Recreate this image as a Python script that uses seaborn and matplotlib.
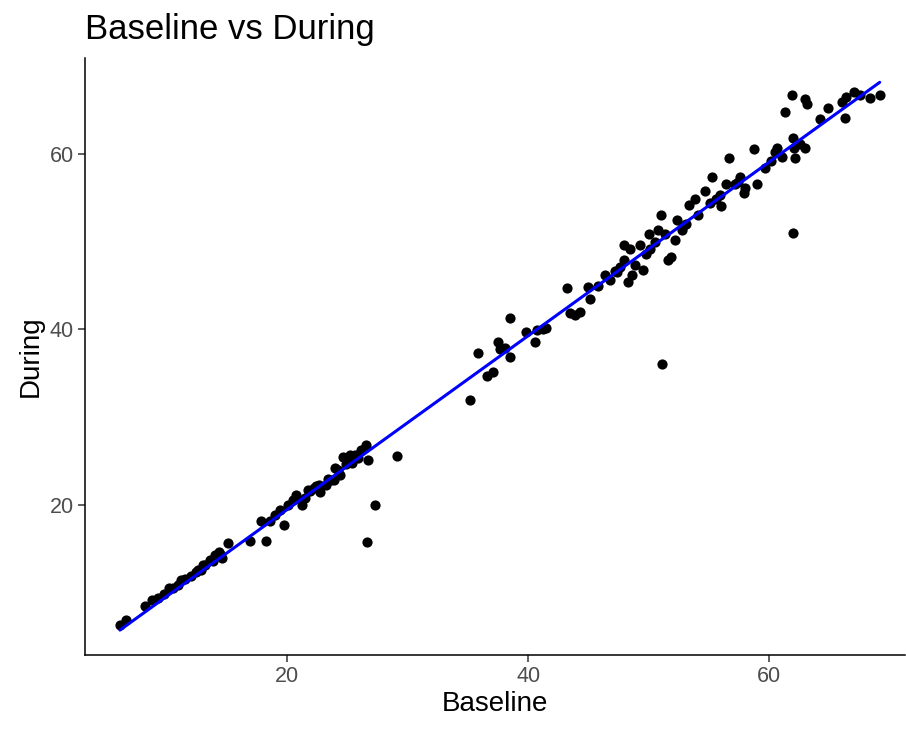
import matplotlib
matplotlib.use("Agg")
import matplotlib.pyplot as plt
import seaborn as sns
import pandas as pd

# values
baseline = [
    6.1, 6.6, 8.2, 8.8, 9.3, 10.5, 10.9, 11.5, 12.0, 12.4, 12.8, 13.2, 13.6, 14.0,
    14.3, 14.6, 15.1, 16.9, 17.8, 18.2, 18.6, 19.4, 19.7, 20.1, 20.5, 20.7, 21.2,
    21.5, 21.7, 22.2, 22.6, 22.7, 23.2, 23.6, 23.9, 24.4, 24.6, 24.9, 25.2, 25.6,
    26.1, 26.5, 26.7, 26.6, 27.3, 29.1,
    35.2, 35.8, 36.6, 37.1, 37.5, 37.7, 38.1, 38.5, 38.5, 39.8, 40.6, 40.7, 41.2,
    41.5, 43.2, 43.5, 43.9, 44.3, 45.0, 45.1, 45.8, 46.4, 46.8, 47.2, 47.6, 48.0,
    48.0, 48.5, 48.3, 48.6, 48.9, 49.3, 49.5, 50.0, 50.1, 50.5, 50.8, 51.0, 51.1,
    51.4, 51.6, 51.9, 52.2, 52.4, 52.8, 52.9, 53.4, 53.9, 54.1, 54.7, 55.1, 55.3,
    55.6, 55.9, 56.4, 56.7, 57.2, 57.4, 57.6, 58.0, 58.8, 59.0, 59.7, 60.5, 60.7,
    61.1, 61.3, 61.9, 62.0, 62.1, 62.2, 62.0, 62.6, 63.0, 63.0, 63.2, 64.2, 64.9,
    66.1, 66.3, 66.4, 67.1, 67.6, 68.4, 69.2,
    10.2, 11.2, 12.6, 13.0, 14.4, 19.0, 21.9, 23.4, 24.2, 25.9, 47.4, 49.8, 53.1,
    56.0, 57.9, 60.2, 22.4, 24.0, 25.4, 13.8, 9.8,
]
during = [
    6.3, 6.9, 8.5, 9.2, 9.4, 10.5, 10.9, 11.5, 11.9, 12.3, 12.6, 13.2, 13.7, 14.3,
    14.6, 13.9, 15.7, 15.9, 18.2, 15.9, 18.2, 19.4, 17.7, 20.0, 20.6, 21.1, 20.0,
    20.8, 21.7, 21.9, 22.3, 21.5, 22.3, 22.8, 22.8, 23.4, 25.4, 24.6, 25.7, 25.7,
    26.3, 26.8, 25.1, 15.8, 20.0, 25.6,
    32.0, 37.3, 34.7, 35.1, 38.5, 37.7, 37.9, 41.3, 36.8, 39.7, 38.5, 39.9, 40.0,
    40.2, 44.7, 41.9, 41.6, 42.0, 44.8, 43.4, 44.9, 46.2, 45.6, 46.6, 47.1, 47.9,
    49.6, 49.1, 45.4, 46.2, 47.3, 49.6, 46.8, 50.9, 49.1, 49.9, 51.3, 53.0, 36.0,
    50.8, 47.9, 48.2, 50.2, 52.5, 51.3, 51.8, 54.2, 54.8, 53.0, 55.7, 54.4, 57.3,
    54.8, 55.3, 56.5, 59.5, 56.5, 56.8, 57.3, 56.1, 60.5, 56.5, 58.4, 60.2, 60.7,
    59.6, 64.8, 66.7, 61.8, 60.6, 59.5, 51.0, 61.1, 60.6, 66.2, 65.7, 63.9, 65.2,
    65.9, 64.1, 66.5, 67.0, 66.7, 66.4, 66.7,
    10.5, 11.4, 12.6, 13.1, 14.4, 18.9, 21.6, 23.0, 24.0, 25.3, 46.5, 48.6, 52.0,
    54.0, 55.5, 59.2, 22.2, 24.2, 24.8, 13.6, 9.9,
]

df = pd.DataFrame({"Baseline": baseline, "During": during})

sns.set_style("ticks")
plt.rcParams["font.family"] = ["Liberation Sans", "DejaVu Sans"]

fig = plt.figure(figsize=(9.06, 7.29), dpi=100)
ax = fig.add_axes([85 / 906, 1 - 655 / 729, 820 / 906, 597 / 729])

sns.regplot(data=df, x="Baseline", y="During", ax=ax, ci=None,
            scatter_kws={"color": "black", "s": 54, "alpha": 1, "linewidths": 0},
            line_kws={"color": "#0000FF", "lw": 2.2}, truncate=True)

ax.set_xlim(3.2, 71.3)
ax.set_ylim(2.9, 70.9)
ax.set_xticks([20, 40, 60])
ax.set_yticks([20, 40, 60])
ax.tick_params(labelcolor="#4D4D4D", color="#333333", labelsize=15.5,
               length=5, width=1.1, pad=3)
for s in ["top", "right"]:
    ax.spines[s].set_visible(False)
for s in ["left", "bottom"]:
    ax.spines[s].set_color("black")
    ax.spines[s].set_linewidth(1.1)

ax.set_xlabel("Baseline", fontsize=20, color="black", labelpad=3)
ax.set_ylabel("During", fontsize=20, color="black", labelpad=4)
ax.set_title("Baseline vs During", loc="left", fontsize=25, color="black", pad=14)

fig.savefig("out.png", dpi=100)
